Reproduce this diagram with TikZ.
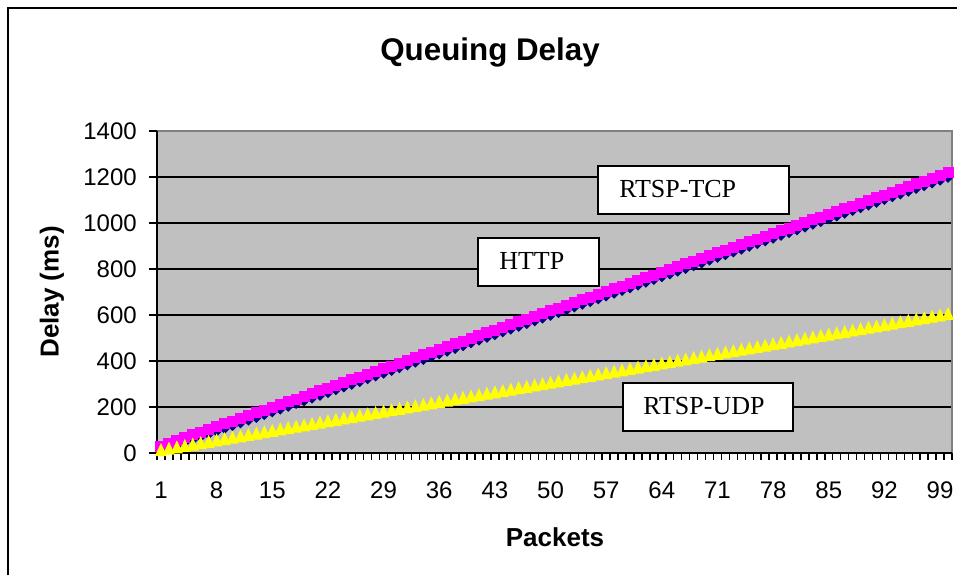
\documentclass[tikz,border=0pt]{standalone}
\usepackage{fontspec}
\newfontfamily\arialf{Liberation Sans}
\newfontfamily\tnrf{Liberation Serif}
\definecolor{plotgray}{HTML}{C0C0C0}
\definecolor{bordergray}{HTML}{808080}
\definecolor{navyc}{HTML}{000080}
\definecolor{pinkc}{HTML}{FF00FF}
\definecolor{yellowc}{HTML}{FFFF00}
\tikzset{
  ticklab/.style={font=\arialf\fontsize{18}{21}\selectfont, inner sep=0pt},
  axtitle/.style={font=\arialf\bfseries\fontsize{19.5}{23}\selectfont, inner sep=0pt},
  serieslab/.style={draw=black, line width=1.5pt, fill=white, inner sep=0pt, anchor=north west},
  boxtext/.style={font=\tnrf\fontsize{19.5}{23}\selectfont, inner sep=0pt, anchor=west},
}
\begin{document}
\begin{tikzpicture}[x=0.75pt,y=-0.75pt]
\useasboundingbox (0,0) rectangle (957,575);
\fill[white] (0,0) rectangle (957,575);
% outer frame
\draw[line width=1.6pt] (8,575) -- (8,8) -- (957,8);
% plot area
\fill[plotgray] (157,131) rectangle (952,453);
\foreach \v in {1,...,6} {
  \draw[line width=1.1pt] (157,{453-\v*46}) -- (952,{453-\v*46});
}
\draw[bordergray, line width=1.2pt] (157,131) -- (952,131) -- (952,453);
% axes
\draw[line width=1.5pt] (157,131) -- (157,453) -- (952,453);
\foreach \v in {0,...,7} {
  \draw[line width=1.1pt] (149,{453-\v*46}) -- (157,{453-\v*46});
  \pgfmathtruncatemacro{\lab}{\v*200}
  \node[ticklab, anchor=east] (yl\v) at (137,{453-\v*46}) {\lab};
}
\foreach \n in {0,...,100} {
  \draw[line width=1.1pt] ({157+\n*7.95},453) -- ({157+\n*7.95},460);
}
\foreach \k in {0,...,14} {
  \pgfmathtruncatemacro{\lab}{1+7*\k}
  \node[ticklab] (xl\k) at ({157+(\lab-0.5)*7.95},490) {\lab};
}
% series
\foreach \n in {1,...,100} {
  \pgfmathsetmacro{\xx}{157+(\n-0.5)*7.95}
  \pgfmathsetmacro{\yb}{450.5-(\n-1)*2.758}
  \fill[navyc] (\xx,\yb-5.5) -- (\xx+5.5,\yb) -- (\xx,\yb+5.5) -- (\xx-5.5,\yb) -- cycle;
}
\foreach \n in {1,...,100} {
  \pgfmathsetmacro{\xx}{157+(\n-0.5)*7.95}
  \pgfmathsetmacro{\yp}{446-(\n-1)*2.758}
  \fill[pinkc] (\xx-5.5,\yp-5.5) rectangle (\xx+5.5,\yp+5.5);
}
\foreach \n in {1,...,100} {
  \pgfmathsetmacro{\xx}{157+(\n-0.5)*7.95}
  \pgfmathsetmacro{\yy}{450-(\n-1)*1.374}
  \fill[yellowc] (\xx-6,\yy+6) -- (\xx+6,\yy+6) -- (\xx,\yy-7) -- cycle;
}
% titles
\node[font=\arialf\bfseries\fontsize{23.5}{27}\selectfont, inner sep=0pt] (title) at (490,52) {Queuing Delay};
\node[axtitle] (xtitle) at (555,537) {Packets};
\node[axtitle, rotate=90] (ytitle) at (52,292) {Delay (ms)};
% series labels
\node[serieslab, minimum width=191*0.75pt, minimum height=48*0.75pt] (tcp) at (597,165) {};
\node[boxtext] (tcpt) at (619,189) {RTSP-TCP};
\node[serieslab, minimum width=121*0.75pt, minimum height=48*0.75pt] (http) at (477,237) {};
\node[boxtext] (httpt) at (499,261) {HTTP};
\node[serieslab, minimum width=170*0.75pt, minimum height=48*0.75pt] (udp) at (622,382) {};
\node[boxtext] (udpt) at (643,406) {RTSP-UDP};
\end{tikzpicture}
\end{document}
